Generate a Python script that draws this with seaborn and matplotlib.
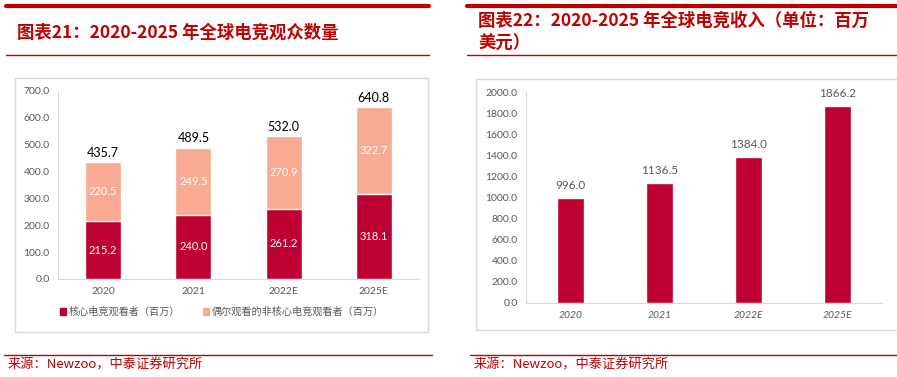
import matplotlib
matplotlib.use('Agg')
import matplotlib.pyplot as plt
import seaborn as sns
import pandas as pd
from matplotlib.lines import Line2D
from matplotlib.patches import Rectangle

sns.set_style('white')
plt.rcParams['font.family'] = ['Noto Sans CJK SC', 'DejaVu Sans']

# data
years = ['2020', '2021', '2022E', '2025E']
core_viewers = [215.2, 240.0, 261.2, 318.1]
casual_viewers = [220.5, 249.5, 270.9, 322.7]
total_labels = [435.7, 489.5, 532.0, 640.8]
revenue = [996.0, 1136.5, 1384.0, 1866.2]

RED = '#C00000'
DARK = '#BE0032'
LIGHT = '#F9AA92'
GRAY = '#595959'
BOX = '#D9D9D9'
NUM_FONT = ['Lato', 'DejaVu Sans']

W, H = 897, 377
fig = plt.figure(figsize=(W / 100, H / 100), dpi=100)


def fx(x):
    return x / W


def fy(y):
    return 1 - y / H


def hline(x0, x1, y, lw, color=RED):
    fig.add_artist(Line2D([fx(x0), fx(x1)], [fy(y), fy(y)], color=color, lw=lw,
                          transform=fig.transFigure))


def box(x0, y0, x1, y1):
    fig.add_artist(Rectangle((fx(x0), fy(y1)), fx(x1 - x0), (y1 - y0) / H, fill=False,
                             edgecolor=BOX, lw=1, transform=fig.transFigure))


# decorations
hline(6, 429, 6, 3)
hline(6, 429, 55, 1)
hline(467, 897, 6, 3)
hline(467, 897, 55, 1)
hline(4, 432, 355, 1)
hline(470, 897, 355, 1)
box(15, 78, 428, 332)
box(476, 79, 905, 330)

fig.text(fx(17), fy(33), '图表21：2020-2025 年全球电竞观众数量', color=RED, fontsize=12.5,
         fontweight='bold', va='center', ha='left')
fig.text(fx(478), fy(32), '图表22：2020-2025 年全球电竞收入（单位：百万\n美元）', color=RED,
         fontsize=12.5, fontweight='bold', va='center', ha='left', linespacing=1.35)
for x0 in (8, 474):
    fig.text(fx(x0), fy(365), '来源：Newzoo，中泰证券研究所', color=RED, fontsize=9.5,
             va='center', ha='left')

# left chart: stacked bars
df1 = pd.DataFrame({'year': years, 'core': core_viewers, 'casual': casual_viewers})
df1['total'] = df1['core'] + df1['casual']
ax1 = fig.add_axes([fx(58), fy(279), (419 - 58) / W, (279 - 91) / H])
sns.barplot(data=df1, x='year', y='total', color=LIGHT, width=0.4, saturation=1, ax=ax1)
sns.barplot(data=df1, x='year', y='core', color=DARK, width=0.4, saturation=1, ax=ax1)
ax1.set_ylim(0, 700)
ax1.set_yticks(range(0, 701, 100))
ax1.set_yticklabels([f'{v:.1f}' for v in range(0, 701, 100)])
for i, (c, s, t) in enumerate(zip(core_viewers, casual_viewers, total_labels)):
    ax1.text(i, c / 2, f'{c:.1f}', color='white', ha='center', va='center', fontsize=8,
             family=NUM_FONT)
    ax1.text(i, c + s / 2, f'{s:.1f}', color='white', ha='center', va='center', fontsize=8,
             family=NUM_FONT)
    ax1.text(i, c + s + 12, f'{t:.1f}', color='black', ha='center', va='bottom', fontsize=9,
             family=NUM_FONT)
handles = [Rectangle((0, 0), 1, 1, color=DARK), Rectangle((0, 0), 1, 1, color=LIGHT)]
ax1.legend(handles, ['核心电竞观看者（百万）', '偶尔观看的非核心电竞观看者（百万）'],
           loc='upper left', bbox_to_anchor=(-0.02, -0.1), ncol=2, frameon=False,
           fontsize=7.3, handlelength=0.6, handleheight=0.6, handletextpad=0.3,
           columnspacing=2.2, labelcolor=GRAY)

# right chart: revenue
df2 = pd.DataFrame({'year': years, 'revenue': revenue})
ax2 = fig.add_axes([fx(526), fy(303), (882 - 526) / W, (303 - 92) / H])
sns.barplot(data=df2, x='year', y='revenue', color=DARK, width=0.31, saturation=1, ax=ax2)
ax2.set_ylim(0, 2000)
ax2.set_yticks(range(0, 2001, 200))
ax2.set_yticklabels([f'{v:.1f}' for v in range(0, 2001, 200)])
for i, v in enumerate(revenue):
    ax2.text(i, v + 70, f'{v:.1f}', color=GRAY, ha='center', va='bottom', fontsize=8.5,
             family=NUM_FONT)

for ax in (ax1, ax2):
    ax.set_xlabel('')
    ax.set_ylabel('')
    sns.despine(ax=ax)
    ax.spines['left'].set_color(BOX)
    ax.spines['bottom'].set_color(BOX)
    ax.tick_params(length=0, labelsize=7.5, labelcolor=GRAY, pad=6)
    ax.patch.set_alpha(0)
    ax.set_xlim(-0.5, 3.5)
    for lab in ax.get_xticklabels() + ax.get_yticklabels():
        lab.set_family(NUM_FONT)
for lab in ax2.get_xticklabels():
    lab.set_fontstyle('italic')

fig.savefig('out.png', dpi=100)
